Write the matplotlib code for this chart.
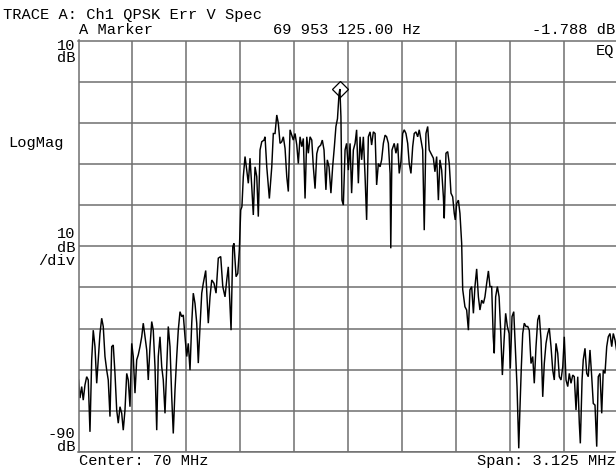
import matplotlib
matplotlib.use("Agg")
import matplotlib.pyplot as plt

# ---- data ----
center_mhz = 70.0
span_mhz = 3.125
ref_top_db = 10
ref_bottom_db = -90
db_per_div = 10

marker_freq_mhz = 69.953125
marker_level_db = -1.788

freq_mhz = [
    68.438, 68.446, 68.456, 68.465, 68.475, 68.485, 68.494, 68.504, 68.514, 68.523,
    68.533, 68.543, 68.552, 68.562, 68.572, 68.581, 68.591, 68.601, 68.610, 68.620,
    68.630, 68.639, 68.649, 68.659, 68.668, 68.678, 68.688, 68.697, 68.707, 68.717,
    68.726, 68.736, 68.746, 68.755, 68.765, 68.775, 68.784, 68.794, 68.804, 68.813,
    68.823, 68.833, 68.842, 68.852, 68.862, 68.871, 68.881, 68.891, 68.900, 68.910,
    68.920, 68.929, 68.939, 68.949, 68.958, 68.968, 68.978, 68.987, 68.997, 69.007,
    69.016, 69.026, 69.036, 69.045, 69.055, 69.065, 69.074, 69.084, 69.094, 69.103,
    69.113, 69.123, 69.132, 69.142, 69.152, 69.161, 69.175, 69.190, 69.200, 69.210,
    69.223, 69.235, 69.248, 69.262, 69.274, 69.287, 69.297, 69.306, 69.322, 69.332,
    69.339, 69.351, 69.361, 69.370, 69.378, 69.385, 69.393, 69.403, 69.413, 69.422,
    69.432, 69.442, 69.451, 69.461, 69.471, 69.480, 69.490, 69.500, 69.513, 69.519,
    69.529, 69.544, 69.558, 69.567, 69.577, 69.587, 69.596, 69.606, 69.616, 69.625,
    69.635, 69.645, 69.654, 69.664, 69.674, 69.683, 69.693, 69.703, 69.712, 69.722,
    69.732, 69.741, 69.751, 69.761, 69.770, 69.780, 69.790, 69.799, 69.809, 69.819,
    69.828, 69.842, 69.851, 69.861, 69.872, 69.880, 69.890, 69.901, 69.911, 69.921,
    69.930, 69.939, 69.948, 69.953, 69.959, 69.965, 69.973, 69.983, 69.992, 70.002,
    70.012, 70.021, 70.031, 70.041, 70.050, 70.060, 70.070, 70.079, 70.089, 70.099,
    70.108, 70.118, 70.128, 70.137, 70.147, 70.157, 70.166, 70.176, 70.186, 70.195,
    70.205, 70.215, 70.224, 70.234, 70.244, 70.248, 70.255, 70.268, 70.278, 70.288,
    70.297, 70.307, 70.317, 70.326, 70.336, 70.346, 70.355, 70.365, 70.375, 70.384,
    70.394, 70.404, 70.413, 70.423, 70.433, 70.442, 70.452, 70.462, 70.471, 70.485,
    70.495, 70.504, 70.514, 70.524, 70.533, 70.543, 70.553, 70.558, 70.568, 70.578,
    70.587, 70.597, 70.607, 70.616, 70.622, 70.630, 70.640, 70.649, 70.659, 70.665,
    70.678, 70.688, 70.698, 70.707, 70.717, 70.727, 70.736, 70.746, 70.756, 70.765,
    70.775, 70.785, 70.794, 70.804, 70.814, 70.823, 70.833, 70.842, 70.848, 70.856,
    70.866, 70.876, 70.885, 70.895, 70.905, 70.914, 70.924, 70.934, 70.941, 70.951,
    70.961, 70.970, 70.980, 70.990, 70.996, 71.005, 71.013, 71.022, 71.032, 71.042,
    71.051, 71.061, 71.071, 71.080, 71.090, 71.100, 71.109, 71.119, 71.129, 71.138,
    71.148, 71.158, 71.167, 71.177, 71.187, 71.196, 71.206, 71.216, 71.225, 71.235,
    71.245, 71.254, 71.264, 71.274, 71.283, 71.293, 71.303, 71.312, 71.322, 71.332,
    71.341, 71.347, 71.357, 71.364, 71.374, 71.384, 71.393, 71.403, 71.413, 71.422,
    71.432, 71.442, 71.451, 71.461, 71.471, 71.480, 71.490, 71.500, 71.509, 71.519,
    71.529, 71.538, 71.548, 71.560,
]

level_db = [
    -72.5, -76.9, -74.1, -77.4, -73.7, -71.7, -72.5, -85.1, -67.6, -60.4,
    -64.4, -73.3, -67.6, -61.2, -57.5, -59.5, -66.8, -70.1, -72.5, -81.4,
    -64.4, -64.0, -70.9, -79.8, -83.0, -79.0, -80.6, -84.7, -79.8, -70.9,
    -72.5, -79.0, -63.6, -66.8, -75.7, -67.6, -66.4, -64.4, -62.0, -58.7,
    -62.0, -65.2, -72.5, -64.4, -58.3, -60.4, -69.3, -84.7, -66.8, -62.0,
    -69.3, -72.5, -80.6, -69.3, -59.5, -64.4, -76.6, -85.5, -74.9, -66.8,
    -60.4, -55.9, -57.1, -56.7, -62.0, -66.8, -63.6, -70.1, -58.7, -51.4,
    -53.9, -58.7, -68.4, -59.5, -51.4, -49.0, -45.9, -58.7, -52.3, -48.2,
    -49.0, -51.4, -42.9, -42.5, -49.8, -52.3, -48.2, -45.0, -60.4, -40.1,
    -39.3, -47.4, -46.6, -40.9, -31.2, -30.4, -23.1, -18.2, -21.5, -24.7,
    -18.6, -25.5, -32.4, -20.7, -23.1, -32.8, -16.6, -14.6, -14.2, -13.4,
    -20.7, -28.4, -20.7, -12.6, -12.6, -8.1, -10.1, -15.0, -14.6, -13.4,
    -16.2, -23.1, -26.7, -11.7, -13.0, -14.2, -12.6, -15.4, -19.9, -13.4,
    -15.8, -13.8, -28.4, -13.4, -17.4, -13.4, -14.2, -20.7, -26.0, -17.5,
    -16.0, -15.4, -14.2, -16.6, -26.3, -19.0, -20.7, -27.1, -20.7, -15.8,
    -10.9, -9.0, -3.0, -1.788, -8.5, -28.8, -30.0, -16.6, -15.0, -21.5,
    -15.0, -27.1, -16.6, -15.0, -11.7, -24.7, -13.4, -19.0, -13.4, -23.1,
    -33.6, -13.4, -12.2, -15.4, -12.2, -12.6, -25.1, -19.9, -20.7, -19.0,
    -15.0, -13.0, -13.4, -15.0, -22.3, -40.5, -16.6, -15.0, -17.4, -15.0,
    -22.3, -19.4, -12.6, -11.7, -12.6, -15.0, -19.9, -22.3, -15.8, -12.6,
    -12.2, -13.4, -11.7, -14.2, -16.6, -36.1, -12.6, -10.9, -16.6, -17.8,
    -18.6, -21.9, -18.2, -28.8, -19.0, -21.5, -28.0, -33.2, -17.4, -17.0,
    -19.9, -27.1, -28.0, -32.0, -33.6, -29.6, -28.8, -32.0, -39.3, -50.5,
    -54.7, -55.5, -60.4, -50.6, -49.8, -56.3, -49.8, -45.5, -52.3, -55.5,
    -53.1, -53.9, -52.3, -49.0, -46.0, -49.8, -49.8, -62.0, -66.0, -52.3,
    -49.8, -52.3, -60.4, -71.3, -62.8, -56.3, -59.5, -61.2, -69.7, -57.1,
    -55.9, -64.4, -74.1, -89.1, -80.6, -69.3, -61.2, -58.7, -59.5, -59.5,
    -60.4, -68.5, -66.8, -73.3, -64.4, -57.9, -56.7, -62.8, -76.6, -68.5,
    -63.6, -61.2, -59.9, -64.4, -70.1, -72.5, -63.6, -66.0, -71.7, -72.5,
    -69.3, -62.0, -72.5, -74.1, -70.9, -73.3, -71.3, -71.7, -79.8, -71.7,
    -83.0, -87.9, -72.5, -67.6, -64.8, -70.9, -71.7, -65.2, -71.7, -78.2,
    -78.6, -88.7, -71.7, -70.9, -80.6, -70.1, -70.9, -64.4, -62.0, -61.2,
    -64.4, -61.2, -62.8, -66.0,
]

header_line1 = "TRACE A: Ch1 QPSK Err V Spec"
marker_label = "A Marker"
marker_freq_text = "69 953 125.00 Hz"
marker_level_text = "-1.788 dB"
center_text = "Center: 70 MHz"
span_text = "Span: 3.125 MHz"

# ---- figure ----
W, H = 616, 471
fig = plt.figure(figsize=(W / 100, H / 100), dpi=100)
fig.patch.set_facecolor("white")

left_px, top_px, right_px, bottom_px = 78.5, 40.5, 617.5, 452.0
ax = fig.add_axes([left_px / W, 1 - bottom_px / H,
                   (right_px - left_px) / W, (bottom_px - top_px) / H])

f_start = center_mhz - span_mhz / 2
f_stop = center_mhz + span_mhz / 2
ax.set_xlim(f_start, f_stop)
ax.set_ylim(ref_bottom_db, ref_top_db)

grid_col = "#6f6f6f"
ax.set_xticks([f_start + i * span_mhz / 10 for i in range(11)])
ax.set_yticks(list(range(ref_bottom_db, ref_top_db + 1, db_per_div)))
ax.tick_params(length=0, labelbottom=False, labelleft=False)
ax.grid(True, color=grid_col, linewidth=1.1)
for s in ax.spines.values():
    s.set_color(grid_col)
    s.set_linewidth(1.1)

ax.plot(freq_mhz, level_db, color="black", linewidth=1.05, clip_on=True,
        solid_joinstyle="miter")
ax.plot([marker_freq_mhz], [marker_level_db], marker="D", markersize=7.8,
        markerfacecolor="none", markeredgecolor="black", markeredgewidth=0.9,
        linestyle="none")

# ---- texts ----
FONT = "Liberation Mono"
FS = 11.1


def ptext(x, y, s, ha="left"):
    fig.text(x / W, 1 - y / H, s, ha=ha, va="baseline", family=FONT,
             fontsize=FS, color="black")


ptext(3, 19, header_line1)
ptext(79, 34.5, marker_label)
ptext(273, 34.5, marker_freq_text)
ptext(615, 34.5, marker_level_text, ha="right")
ptext(614, 55.5, "EQ", ha="right")

ptext(75.5, 49.5, "10", ha="right")
ptext(75.5, 62.5, "dB", ha="right")
ptext(8, 147.3, "LogMag")
ptext(75.5, 238.3, "10", ha="right")
ptext(75.5, 251.7, "dB", ha="right")
ptext(75.5, 265, "/div", ha="right")
ptext(75.5, 437.5, "-90", ha="right")
ptext(75.5, 450.7, "dB", ha="right")
ptext(79, 465, center_text)
ptext(616, 465, span_text, ha="right")

fig.savefig("out.png", dpi=100, facecolor="white")
